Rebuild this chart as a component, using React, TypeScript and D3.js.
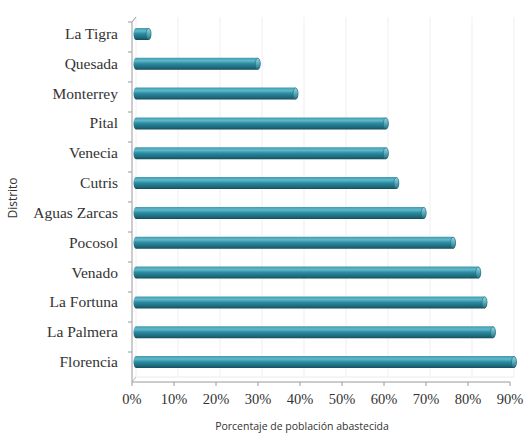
import React from "react";
import * as d3 from "d3";

const districts = ["La Tigra", "Quesada", "Monterrey", "Pital", "Venecia", "Cutris", "Aguas Zarcas", "Pocosol", "Venado", "La Fortuna", "La Palmera", "Florencia"];
const values = [3, 29, 38, 59.5, 59.5, 62, 68.5, 75.5, 81.5, 83, 85, 90];
const ticks = [0, 10, 20, 30, 40, 50, 60, 70, 80, 90];

const W = 526, H = 433;
const depthX = 4, depthY = 5;
const axisLeft = 132, axisRight = 510, axisBottom = 382;

export default function App() {
  const xAxis = d3.scaleLinear().domain([0, 90]).range([axisLeft, axisRight]);
  const xBar = d3.scaleLinear().domain([0, 90]).range([axisLeft + depthX, axisRight + depthX]);
  const y = d3.scaleBand().domain(districts).range([19, axisBottom - 5]).paddingInner(0.58).paddingOuter(0.29);
  const yOuter = d3.scaleBand().domain(districts).range([axisBottom - 360, axisBottom]);
  const bh = 12;
  const labelFont = "'Liberation Serif', 'DejaVu Serif', serif";
  return (
    <svg width={W} height={H} style={{ position: "absolute", left: 0, top: 0, background: "#fff" }}>
      <defs>
        <linearGradient id="cyl" x1="0" y1="0" x2="0" y2="1">
          <stop offset="0" stopColor="#3f9bb0" />
          <stop offset="0.25" stopColor="#62b8c9" />
          <stop offset="0.5" stopColor="#2a8aa0" />
          <stop offset="0.85" stopColor="#1c6677" />
          <stop offset="1" stopColor="#154b58" />
        </linearGradient>
        <linearGradient id="cap" x1="0" y1="0" x2="0" y2="1">
          <stop offset="0" stopColor="#9fd6e0" />
          <stop offset="0.5" stopColor="#58aabb" />
          <stop offset="1" stopColor="#2a7384" />
        </linearGradient>
      </defs>
      {ticks.map(t => (
        <line key={"g" + t} x1={xBar(t)} x2={xBar(t)} y1={axisBottom - 360 - depthY} y2={axisBottom - depthY} stroke="#efefef" strokeWidth={1} />
      ))}
      <line x1={axisLeft + depthX} x2={axisRight + depthX} y1={axisBottom - depthY} y2={axisBottom - depthY} stroke="#ececec" />
      <line x1={axisLeft} x2={axisLeft} y1={axisBottom - 360} y2={axisBottom} stroke="#9a9a9a" strokeWidth={1} />
      <line x1={axisLeft} x2={axisLeft + depthX} y1={axisBottom - 360} y2={axisBottom - 360 - depthY} stroke="#9a9a9a" strokeWidth={1} />
      <line x1={axisLeft} x2={axisLeft + depthX} y1={axisBottom} y2={axisBottom - depthY} stroke="#bbbbbb" strokeWidth={1} />
      {districts.map(d => (
        <line key={"yt" + d} x1={axisLeft - 4} x2={axisLeft} y1={yOuter(d)!} y2={yOuter(d)!} stroke="#9a9a9a" />
      ))}
      <line x1={axisLeft} x2={axisRight} y1={axisBottom} y2={axisBottom} stroke="#9a9a9a" />
      {ticks.map(t => (
        <g key={"xt" + t}>
          <line x1={xAxis(t)} x2={xAxis(t)} y1={axisBottom} y2={axisBottom + 4} stroke="#9a9a9a" />
          <text x={xAxis(t)} y={axisBottom + 22} textAnchor="middle" fontFamily={labelFont} fontSize={14.5} fill="#333">{t}%</text>
        </g>
      ))}
      {districts.map((d, i) => {
        const cy = y(d)! + y.bandwidth() / 2;
        const x0 = xBar(0);
        const x1 = xBar(values[i]);
        const rx = 2.5;
        return (
          <g key={"b" + d}>
            <path d={`M${x0},${cy - bh / 2} L${x1},${cy - bh / 2} A${rx},${bh / 2} 0 0 1 ${x1},${cy + bh / 2} L${x0},${cy + bh / 2} A${rx},${bh / 2} 0 0 1 ${x0},${cy - bh / 2} Z`} fill="url(#cyl)" />
            <ellipse cx={x1} cy={cy} rx={rx} ry={bh / 2 - 0.5} fill="url(#cap)" stroke="#1f6b7c" strokeWidth={0.6} />
          </g>
        );
      })}
      {districts.map(d => (
        <text key={"l" + d} x={axisLeft - 14} y={y(d)! + y.bandwidth() / 2 + 5} textAnchor="end" fontFamily={labelFont} fontSize={15.5} fill="#333">{d}</text>
      ))}
      <text transform={`translate(17,198) rotate(-90)`} textAnchor="middle" fontFamily="'Open Sans', 'Liberation Sans', sans-serif" fontSize={12} fill="#333">Distrito</text>
      <text x={302} y={430} textAnchor="middle" fontFamily="'Open Sans', 'Liberation Sans', sans-serif" fontSize={10.5} fill="#333">Porcentaje de población abastecida</text>
    </svg>
  );
}
